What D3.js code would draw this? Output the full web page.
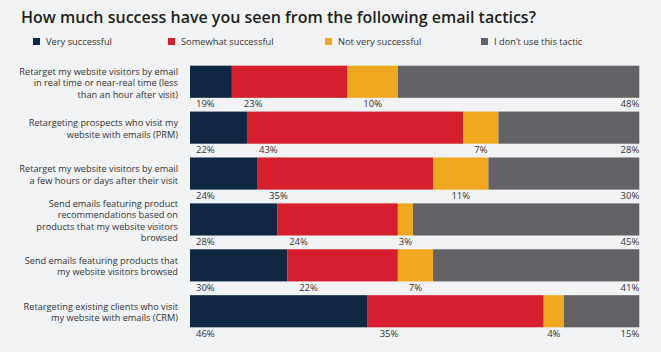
<!DOCTYPE html>
<html>
<head>
<meta charset="utf-8">
<script src="https://cdn.jsdelivr.net/npm/d3@7"></script>
<style>
  body { margin: 0; background: #f2f3f5; }
  text { font-family: "Open Sans", sans-serif; }
</style>
</head>
<body>
<div id="chart"></div>
<script>
var svgWidth = 661;
var svgHeight = 352;

// tactics, one entry per bar (lines as they wrap in the picture)
var categories = [
    ["Retarget my website visitors by email", "in real time or near-real time (less", "than an hour after visit)"],
    ["Retargeting prospects who visit my", "website with emails (PRM)"],
    ["Retarget my website visitors by email", "a few hours or days after their visit"],
    ["Send emails featuring product", "recommendations based on", "products that my website visitors", "browsed"],
    ["Send emails featuring products that", "my website visitors browsed"],
    ["Retargeting existing clients who visit", "my website with emails (CRM)"]
];

var seriesNames = ["Very successful", "Somewhat successful", "Not very successful", "I don\u2019t use this tactic"];
var seriesColors = ["#0f2740", "#d51f2f", "#f0a91e", "#636266"];

// percentages
var verySuccessful = [19, 22, 24, 28, 30, 46];
var somewhatSuccessful = [23, 43, 35, 24, 22, 35];
var notVerySuccessful = [10, 7, 11, 3, 7, 4];
var dontUse = [48, 28, 30, 45, 41, 15];

var seriesValues = [verySuccessful, somewhatSuccessful, notVerySuccessful, dontUse];

var svg = d3.select("#chart")
    .append("svg")
    .attr("width", svgWidth)
    .attr("height", svgHeight);

svg.append("rect")
    .attr("width", svgWidth)
    .attr("height", svgHeight)
    .attr("fill", "#f2f3f5");

// title
svg.append("text")
    .attr("x", 21)
    .attr("y", 23)
    .attr("font-size", 16)
    .attr("font-weight", 600)
    .attr("fill", "#231f20")
    .text("How much success have you seen from the following email tactics?");

// legend
var legendX = [33, 168, 325, 481];
var legend = svg.append("g").selectAll("g")
    .data(seriesNames)
    .enter()
    .append("g")
    .attr("transform", (d, i) => `translate(${legendX[i]}, 38)`);

legend.append("rect")
    .attr("width", 7)
    .attr("height", 7)
    .attr("fill", (d, i) => seriesColors[i]);

legend.append("text")
    .attr("x", 13)
    .attr("y", 7)
    .attr("font-size", 9.3)
    .attr("fill", "#333")
    .text(d => d);

// scales - the bars in the source are cut off on the left, so the
// axis origin sits left of the bar start and the rest is clipped
var barLeft = 190;
var xScale = d3.scaleLinear()
    .domain([0, 100])
    .range([136.3, 639.3]);

var yScale = d3.scaleBand()
    .domain(d3.range(categories.length))
    .range([58.8, 334.2])
    .paddingInner(0.3)
    .paddingOuter(0.15);

svg.append("clipPath")
    .attr("id", "barClip")
    .append("rect")
    .attr("x", barLeft)
    .attr("y", 0)
    .attr("width", svgWidth - barLeft)
    .attr("height", svgHeight);

// stack the series
var rows = categories.map(function (c, i) {
    var start = 0;
    return seriesValues.map(function (vals, s) {
        var seg = { row: i, series: s, value: vals[i], x0: start, x1: start + vals[i] };
        start += vals[i];
        return seg;
    });
});
var segments = d3.merge(rows);

var barGroup = svg.append("g").attr("clip-path", "url(#barClip)");

barGroup.selectAll("rect")
    .data(segments)
    .enter()
    .append("rect")
    .attr("x", d => xScale(d.x0))
    .attr("y", d => yScale(d.row))
    .attr("width", d => xScale(d.x1) - xScale(d.x0))
    .attr("height", yScale.bandwidth())
    .attr("fill", d => seriesColors[d.series]);

// value labels under the bars
svg.append("g").selectAll("text")
    .data(segments)
    .enter()
    .append("text")
    .attr("y", d => yScale(d.row) + yScale.bandwidth() + 9.5)
    .attr("font-size", 9.5)
    .attr("fill", "#333")
    .attr("x", function (d) {
        if (d.series === 0) return barLeft + 6;
        if (d.series === 1) return xScale(d.x0) + 12;
        if (d.series === 2) return (xScale(d.x0) + xScale(d.x1)) / 2;
        return xScale(d.x1);
    })
    .attr("text-anchor", function (d) {
        if (d.series === 2) return "middle";
        if (d.series === 3) return "end";
        return "start";
    })
    .text(d => d.value + "%");

// category labels
var lineHeight = 11.5;
var catLabels = svg.append("g").selectAll("text")
    .data(categories)
    .enter()
    .append("text")
    .attr("text-anchor", "end")
    .attr("font-size", 9.2)
    .attr("fill", "#333")
    .attr("y", function (d, i) {
        var mid = yScale(i) + yScale.bandwidth() / 2 + 1;
        return mid - (d.length - 1) * lineHeight / 2 + 3.3;
    });

catLabels.selectAll("tspan")
    .data(d => d)
    .enter()
    .append("tspan")
    .attr("x", 178)
    .attr("dy", (d, i) => i === 0 ? 0 : lineHeight)
    .text(d => d);
</script>
</body>
</html>
